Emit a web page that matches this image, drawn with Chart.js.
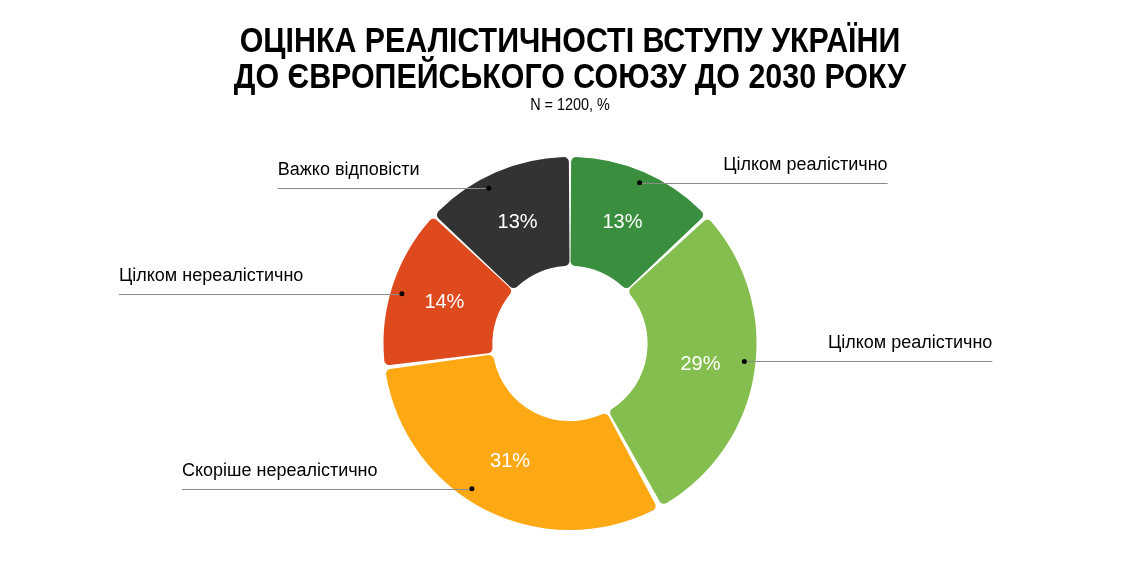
<!DOCTYPE html>
<html lang="uk">
<head>
<meta charset="utf-8">
<title>Оцінка реалістичності вступу України до ЄС</title>
<script src="https://cdn.jsdelivr.net/npm/chart.js@4/dist/chart.umd.min.js"></script>
<style>
  html, body { margin: 0; padding: 0; background: #fff; }
  #wrap { width: 1140px; height: 571px; position: relative; }
</style>
</head>
<body>
<div id="wrap"><canvas id="chart"></canvas></div>
<script>
// answers, clockwise from 12 o'clock
const labels = [
    'Цілком реалістично',
    'Цілком реалістично',
    'Скоріше нереалістично',
    'Цілком нереалістично',
    'Важко відповісти',
];
const shares = [13, 29, 31, 14, 13];
const colors = ['#3a8f3e', '#84be4e', '#fea814', '#de4a1e', '#333333'];

const titleLines = ['ОЦІНКА РЕАЛІСТИЧНОСТІ ВСТУПУ УКРАЇНИ', 'ДО ЄВРОПЕЙСЬКОГО СОЮЗУ ДО 2030 РОКУ'];
const subtitleText = 'N = 1200, %';

// where the callout leaves each slice (fraction of the slice) and how long the line is
const leader = {
    at: [0.5, 0.47, 0.563, 0.47, 0.41],
    length: [248, 248, 290, 283, 211],
};

// condensed title: no narrow font here, so squeeze the regular one
const heading = {
    id: 'heading',
    afterDraw(chart) {
        const ctx = chart.ctx;
        const cx = chart.width / 2;
        ctx.save();
        ctx.fillStyle = '#000';
        ctx.textAlign = 'center';
        ctx.textBaseline = 'alphabetic';

        ctx.save();
        ctx.translate(cx, 0);
        ctx.scale(0.868, 1);
        ctx.font = 'bold 35px "Liberation Sans", Arial, sans-serif';
        ctx.fillText(titleLines[0], 0, 52);
        ctx.fillText(titleLines[1], 0, 88);
        ctx.restore();

        ctx.save();
        ctx.translate(cx, 0);
        ctx.scale(0.9, 1);
        ctx.font = '16px "Liberation Sans", Arial, sans-serif';
        ctx.fillText(subtitleText, 0, 110);
        ctx.restore();
        ctx.restore();
    }
};

const sliceLabels = {
    id: 'sliceLabels',
    afterDatasetsDraw(chart) {
        const ctx = chart.ctx;
        const meta = chart.getDatasetMeta(0);
        ctx.save();
        meta.data.forEach((arc, i) => {
            // value inside the slice
            const pos = arc.tooltipPosition();
            ctx.fillStyle = '#ffffff';
            ctx.font = '20px "Liberation Sans", Arial, sans-serif';
            ctx.textAlign = 'center';
            ctx.textBaseline = 'middle';
            ctx.fillText(shares[i] + '%', pos.x, pos.y);

            // callout: dot, horizontal line, label above it
            const p = arc.getProps(['x', 'y', 'startAngle', 'endAngle', 'outerRadius'], true);
            const a = p.startAngle + (p.endAngle - p.startAngle) * leader.at[i];
            const r = p.outerRadius * 0.95;
            const dx = p.x + Math.cos(a) * r;
            const dy = p.y + Math.sin(a) * r;
            const right = Math.cos(a) >= 0;
            const ex = right ? dx + leader.length[i] : dx - leader.length[i];

            ctx.strokeStyle = '#8c8c8c';
            ctx.lineWidth = 1;
            ctx.beginPath();
            ctx.moveTo(dx, Math.round(dy) + 0.5);
            ctx.lineTo(ex, Math.round(dy) + 0.5);
            ctx.stroke();

            ctx.fillStyle = '#000000';
            ctx.beginPath();
            ctx.arc(dx, dy, 2.5, 0, Math.PI * 2);
            ctx.fill();

            ctx.font = '18px "Liberation Sans", Arial, sans-serif';
            ctx.textAlign = right ? 'right' : 'left';
            ctx.textBaseline = 'alphabetic';
            ctx.fillText(labels[i], ex, dy - 13);
        });
        ctx.restore();
    }
};

new Chart(document.getElementById('chart'), {
    type: 'doughnut',
    data: {
        labels: labels,
        datasets: [{
            data: shares,
            backgroundColor: colors,
            borderWidth: 0,
            spacing: 4,
            borderRadius: 5,
        }],
    },
    options: {
        responsive: true,
        maintainAspectRatio: false,
        animation: false,
        cutout: '41%',
        layout: {
            padding: { top: 157, bottom: 41 },
        },
        plugins: {
            legend: { display: false },
            tooltip: { enabled: false },
            title: { display: false },
        },
    },
    plugins: [sliceLabels, heading],
});
</script>
</body>
</html>
